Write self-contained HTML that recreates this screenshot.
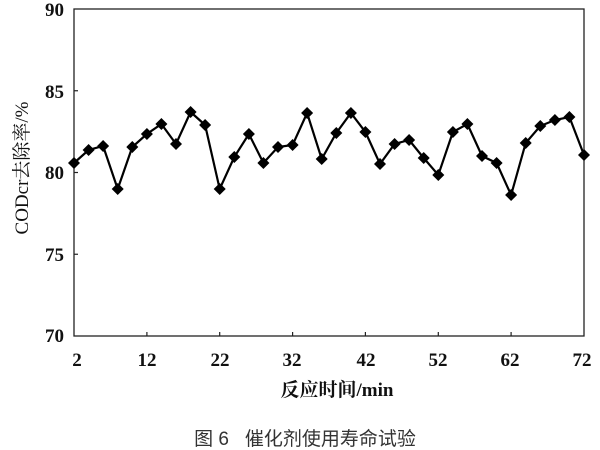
<!DOCTYPE html>
<html><head><meta charset="utf-8"><style>body{margin:0;background:#fff}svg{display:block}</style></head><body>
<svg width="600" height="450" xmlns="http://www.w3.org/2000/svg">
<defs>
<marker id="d" viewBox="-6 -6 12 12" refX="0" refY="0" markerWidth="12" markerHeight="12" markerUnits="userSpaceOnUse">
<polygon points="0,-6 6,0 0,6 -6,0" fill="#000"/>
</marker>
</defs>
<rect width="600" height="450" fill="#fff"/>
<rect x="74" y="9" width="510" height="327" stroke="#222" stroke-width="1.3" fill="none"/>
<g stroke="#222" stroke-width="1.2">
<line x1="146.9" y1="336" x2="146.9" y2="332"/><line x1="219.7" y1="336" x2="219.7" y2="332"/><line x1="292.6" y1="336" x2="292.6" y2="332"/><line x1="365.4" y1="336" x2="365.4" y2="332"/><line x1="438.3" y1="336" x2="438.3" y2="332"/><line x1="511.1" y1="336" x2="511.1" y2="332"/>
<line x1="74" y1="90.75" x2="78" y2="90.75"/><line x1="74" y1="172.5" x2="78" y2="172.5"/><line x1="74" y1="254.25" x2="78" y2="254.25"/>
</g>
<g font-family="Liberation Serif, serif" font-weight="bold" font-size="19" fill="#111" text-anchor="end">
<text x="64" y="16">90</text><text x="64" y="98">85</text><text x="64" y="179">80</text><text x="64" y="261">75</text><text x="64" y="342">70</text>
</g>
<g font-family="Liberation Serif, serif" font-weight="bold" font-size="19" fill="#111" text-anchor="middle">
<text x="77" y="366">2</text><text x="147" y="366">12</text><text x="220" y="366">22</text><text x="292" y="366">32</text><text x="366" y="366">42</text><text x="438" y="366">52</text><text x="510" y="366">62</text><text x="582" y="366">72</text>
</g>
<text x="337" y="396" text-anchor="middle" font-family="Liberation Serif, 'Noto Serif CJK SC', serif" font-weight="bold" font-size="19" fill="#111">反应时间/min</text>
<text x="305" y="445" text-anchor="middle" font-family="Liberation Sans, 'Noto Sans CJK SC', sans-serif" font-size="19" fill="#333" xml:space="preserve">图 6   催化剂使用寿命试验</text>
<text transform="translate(28,168) rotate(-90)" text-anchor="middle" font-family="Liberation Serif, 'Noto Serif CJK SC', serif" font-size="19" fill="#111">CODcr去除率/%</text>
<polyline fill="none" stroke="#000" stroke-width="2.2" marker-start="url(#d)" marker-mid="url(#d)" marker-end="url(#d)" points="74,163 88.6,150 103.1,146 117.7,189 132.3,147 146.9,134 161.4,124 176,144 190.6,112 205.1,125 219.7,189 234.3,157 248.9,134 263.4,163 278,147 292.6,145 307.1,113 321.7,159 336.3,133 350.9,113 365.4,132 380,164 394.6,144 409.1,140 423.7,158 438.3,175 452.9,132 467.4,124 482,156 496.6,163 511.1,195 525.7,143 540.3,126 554.9,120 569.4,117 584,155"/>
</svg>
</body></html>
